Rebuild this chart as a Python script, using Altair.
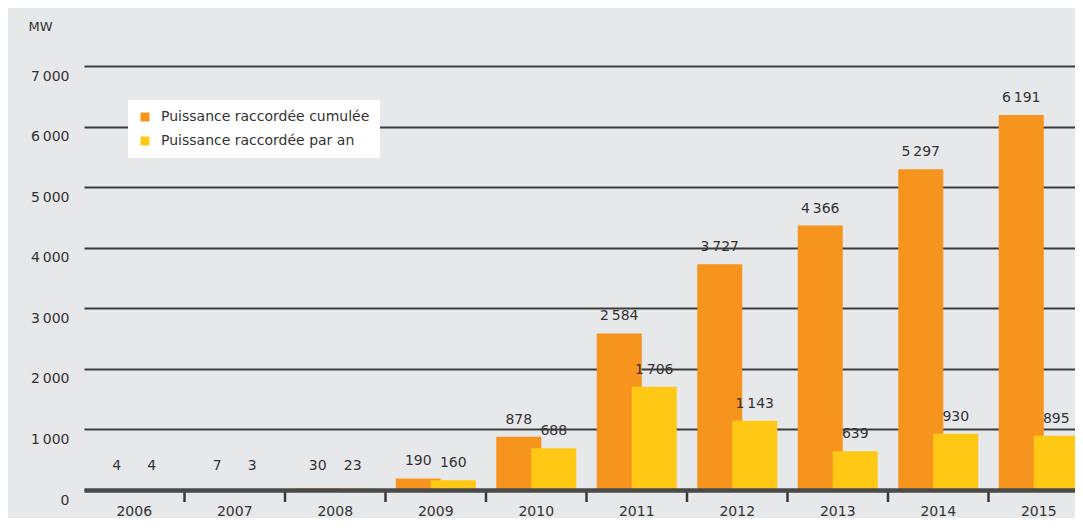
import altair as alt
import pandas as pd

years = ["2006", "2007", "2008", "2009", "2010", "2011", "2012", "2013", "2014", "2015"]
cumul = [4, 7, 30, 190, 878, 2584, 3727, 4366, 5297, 6191]
par_an = [4, 3, 23, 160, 688, 1706, 1143, 639, 930, 895]
series = ["Puissance raccordée cumulée", "Puissance raccordée par an"]
y_ticks = [0, 1000, 2000, 3000, 4000, 5000, 6000, 7000]

ORANGE = "#F7941E"
YELLOW = "#FFC814"
BG = "#E7E8EA"
TXT = "#333333"
FONT = "DejaVu Sans"

rows = []
for y, c, a in zip(years, cumul, par_an):
    rows.append({"year": y, "series": series[0], "value": c})
    rows.append({"year": y, "series": series[1], "value": a})
df = pd.DataFrame(rows)

BAND = 100.5
W = 991
H = 424

xscale = alt.Scale(domain=years, range=[0, BAND * 10], paddingInner=0, paddingOuter=0)
yscale = alt.Scale(domain=[0, 7000], nice=False)
cscale = alt.Scale(domain=series, range=[ORANGE, YELLOW])

base = alt.Chart(df)

xaxis = alt.Axis(title=None, labelAngle=0, ticks=False, labelPadding=21, labelBaseline="middle",
                 labelFontSize=14, labelColor=TXT, labelFont=FONT,
                 domainColor="#4A4A4A", domainWidth=4.5, zindex=1, grid=False)
yaxis = alt.Axis(title="MW", titleAngle=0, titleAlign="left", titleBaseline="middle",
                 titleX=-56, titleY=-40, titleFontSize=13, titleFontWeight="normal",
                 titleColor=TXT, titleFont=FONT,
                 values=y_ticks, domain=False, ticks=False, labelPadding=15,
                 labelOffset=10, labelBaseline="middle",
                 labelExpr="replace(format(datum.value, ','), ',', '\u202f')",
                 labelFontSize=14, labelColor=TXT, labelFont=FONT,
                 grid=True, gridColor="#3C3C3C", gridWidth=2, zindex=0)

legend = alt.Legend(title=None, orient="none", legendX=44, legendY=34,
                    fillColor="white", padding=10, symbolType="square", symbolSize=81,
                    symbolStrokeWidth=0, labelFontSize=14, labelFont=FONT, labelColor=TXT,
                    labelOffset=9, rowPadding=10, labelLimit=400)

def bars(s, offset, legend_obj):
    return base.transform_filter(alt.datum.series == s).mark_bar(
        width=45, xOffset=offset).encode(
        x=alt.X("year:N", scale=xscale, axis=xaxis, sort=years),
        y=alt.Y("value:Q", scale=yscale, axis=yaxis),
        color=alt.Color("series:N", scale=cscale, legend=legend_obj),
    )

def labels(s, offset):
    return base.transform_filter(alt.datum.series == s).transform_calculate(
        ly="max(datum.value, 120)",
        lab="replace(format(datum.value, ','), ',', '\u202f')",
    ).mark_text(xOffset=offset, dy=-13, baseline="alphabetic", fontSize=14,
                font=FONT, color=TXT).encode(
        x=alt.X("year:N", scale=xscale, sort=years),
        y=alt.Y("ly:Q", scale=yscale),
        text="lab:N",
    )

tick_df = pd.DataFrame({"year": years[1:]})
ticks = alt.Chart(tick_df).mark_rule(xOffset=-BAND / 2, strokeWidth=2.5, color="#3A3A3A").encode(
    x=alt.X("year:N", scale=xscale, sort=years),
    y=alt.value(H),
    y2=alt.value(H + 12),
)

chart = alt.layer(
    bars(series[0], -17.5, legend),
    bars(series[1], 17.5, legend),
    labels(series[0], -17.5),
    labels(series[1], 17.5),
    ticks,
).properties(
    width=W, height=H,
    autosize=alt.AutoSizeParams(type="none"),
    padding={"left": 76, "top": 58, "right": 0, "bottom": 28},
    background=BG,
).configure_view(stroke=None)

chart.save("out.html", embed_options={"renderer": "svg", "actions": False})
